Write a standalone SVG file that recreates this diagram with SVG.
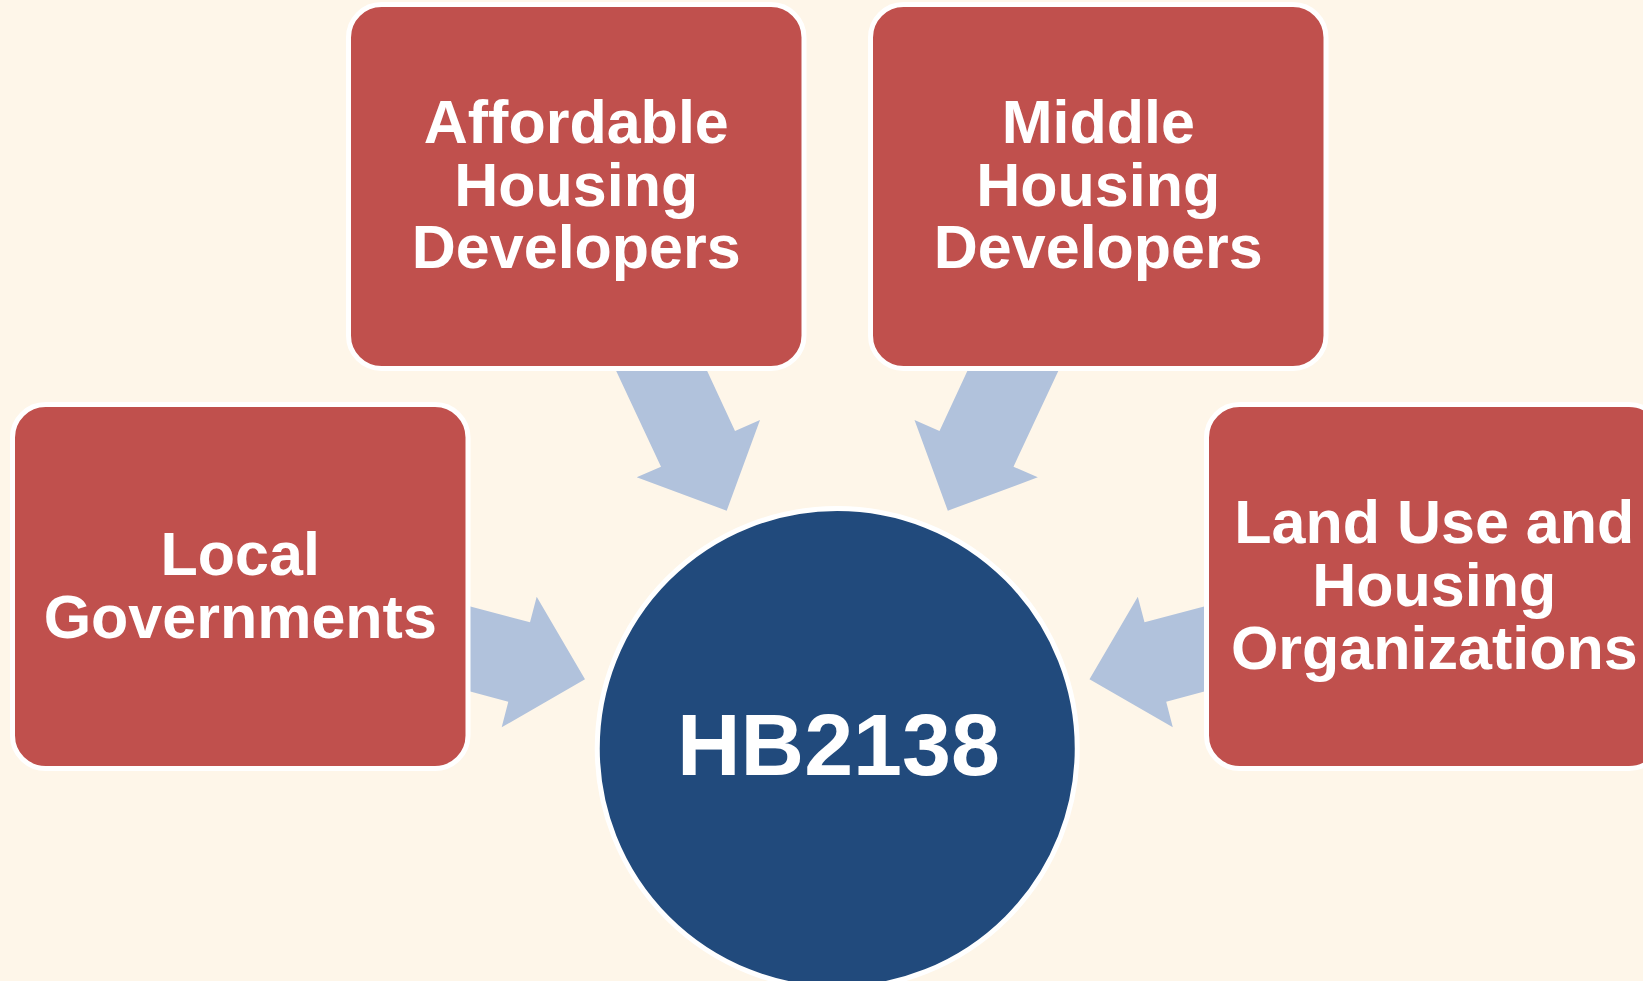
<svg xmlns="http://www.w3.org/2000/svg" width="1643" height="981" viewBox="0 0 1643 981">
<style>
.box{fill:#C0504D;stroke:#FFFFFF;stroke-width:5}
.arrow{fill:#B1C2DC;stroke:none}
.lbl{font-family:"Liberation Sans",Arial,sans-serif;font-weight:bold;font-size:61px;fill:#FFFFFF;text-anchor:middle}
.hub{font-family:"Liberation Sans",Arial,sans-serif;font-weight:bold;font-size:88px;fill:#FFFFFF;text-anchor:middle}
</style>
<rect x="0" y="0" width="1643" height="981" fill="#FEF6E9"/>
<g id="connectors">
<polygon class="arrow" points="612,362 703,362 735,431 760,420 726.7,510.7 636.7,477.3 661,466.7"/>
<polygon class="arrow" points="1062.5,362 971.5,362 939.5,431 914.5,420 947.8,510.7 1037.8,477.3 1013.5,466.7"/>
<polygon class="arrow" points="460,603.8 530,622.3 536.7,596.7 585,679.3 501.7,727.3 508.3,701.7 460,688.7"/>
<polygon class="arrow" points="1214.5,603.8 1144.5,622.3 1137.8,596.7 1089.5,679.3 1172.8,727.3 1166.2,701.7 1214.5,688.7"/>
</g>
<g id="node-affordable">
<rect class="box" x="348.5" y="4.5" width="455.5" height="364" rx="33" ry="33"/>
<text class="lbl" x="576.25" y="143">Affordable</text>
<text class="lbl" x="576.25" y="205.5">Housing</text>
<text class="lbl" x="576.25" y="268">Developers</text>
</g>
<g id="node-middle">
<rect class="box" x="870.5" y="4.5" width="455.5" height="364" rx="33" ry="33"/>
<text class="lbl" x="1098.25" y="143">Middle</text>
<text class="lbl" x="1098.25" y="205.5">Housing</text>
<text class="lbl" x="1098.25" y="268">Developers</text>
</g>
<g id="node-local">
<rect class="box" x="12.5" y="404.5" width="455.5" height="364" rx="33" ry="33"/>
<text class="lbl" x="240.25" y="575">Local</text>
<text class="lbl" x="240.25" y="637.5">Governments</text>
</g>
<g id="node-landuse">
<rect class="box" x="1206.5" y="404.5" width="455.5" height="364" rx="33" ry="33"/>
<text class="lbl" x="1434.25" y="543">Land Use and</text>
<text class="lbl" x="1434.25" y="606">Housing</text>
<text class="lbl" x="1434.25" y="669">Organizations</text>
</g>
<g id="node-hb2138">
<circle cx="837.25" cy="748.5" r="240" fill="#214A7C" stroke="#FFFFFF" stroke-width="5"/>
<text class="hub" x="838.5" y="775">HB2138</text>
</g>
</svg>
